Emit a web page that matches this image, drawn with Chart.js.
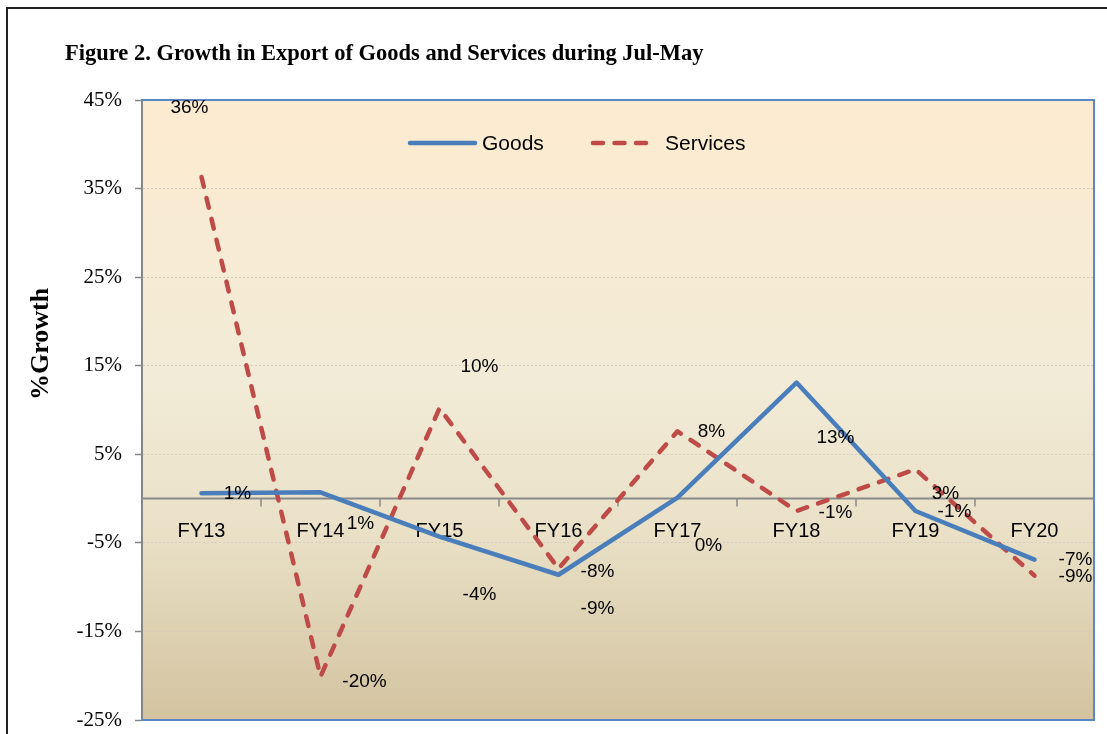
<!DOCTYPE html>
<html>
<head>
<meta charset="utf-8">
<title>Growth in Export of Goods and Services</title>
<script src="https://cdn.jsdelivr.net/npm/chart.js@4.4.4/dist/chart.umd.min.js"></script>
<style>
  html, body { margin: 0; padding: 0; background: #fff; }
  #wrap { position: relative; width: 1107px; height: 734px; }
</style>
</head>
<body>
<div id="wrap"><canvas id="chart" width="1107" height="734"></canvas></div>
<script>
// values (percent growth, Jul-May)
const categories = ['FY13', 'FY14', 'FY15', 'FY16', 'FY17', 'FY18', 'FY19', 'FY20'];
const goodsGrowth = [0.6, 0.7, -4.3, -8.6, 0.1, 13.1, -1.4, -6.9];
const servicesGrowth = [36.3, -20.1, 10.2, -7.9, 7.6, -1.4, 3.3, -8.7];
const yTickValues = [-25, -15, -5, 5, 15, 25, 35, 45];

// where each data label sits relative to its point (px), like the original
const goodsLabelOffsets = [[36, 1], [40, 31], [40, 58], [39, 34], [31, 48], [39, 55], [39, 1], [41, 0]];
const servicesLabelOffsets = [[-12, -69], [44, 5], [40, -41], [39, 3], [34, 1], [39, 2], [30, 24], [41, 1]];

const TITLE = 'Figure 2. Growth in Export of Goods and Services during Jul-May';
const GOODS_COLOR = '#4a7ebb';
const SERVICES_COLOR = '#be4b48';
const SANS = '"Liberation Sans", Arial, sans-serif';
const SERIF = '"Liberation Serif", "Times New Roman", serif';

const pct = v => Math.round(v) + '%';

const decorations = {
  id: 'decorations',
  beforeDraw(chart) {
    const { ctx, chartArea: a } = chart;
    ctx.save();
    ctx.fillStyle = '#fff';
    ctx.fillRect(0, 0, chart.width, chart.height);
    // outer frame (top + left)
    ctx.strokeStyle = '#222';
    ctx.lineWidth = 2;
    ctx.beginPath();
    ctx.moveTo(7, chart.height);
    ctx.lineTo(7, 8);
    ctx.lineTo(chart.width, 8);
    ctx.stroke();
    // plot background
    const g = ctx.createLinearGradient(0, a.top, 0, a.bottom);
    g.addColorStop(0, '#fdebd0');
    g.addColorStop(0.45, '#f2ebd7');
    g.addColorStop(0.7, '#e9e0c6');
    g.addColorStop(1, '#d3c3a0');
    ctx.fillStyle = g;
    ctx.fillRect(a.left, a.top, a.right - a.left, a.bottom - a.top);
    ctx.restore();
  },
  beforeDatasetsDraw(chart) {
    const { ctx, chartArea: a, scales: { x, y } } = chart;
    const zeroY = y.getPixelForValue(0);
    const step = x.getPixelForValue(1) - x.getPixelForValue(0);
    ctx.save();
    // zero line with tick marks between the categories
    ctx.strokeStyle = '#8a8a8a';
    ctx.lineWidth = 2;
    ctx.beginPath();
    ctx.moveTo(a.left, zeroY);
    ctx.lineTo(a.right, zeroY);
    ctx.stroke();
    ctx.lineWidth = 1.5;
    ctx.beginPath();
    for (let i = 1; i < categories.length; i++) {
      const tx = x.getPixelForValue(i) - step / 2;
      ctx.moveTo(tx, zeroY);
      ctx.lineTo(tx, zeroY + 8);
    }
    ctx.stroke();
    // category labels hang under the zero line
    ctx.fillStyle = '#000';
    ctx.font = '20px ' + SANS;
    ctx.textAlign = 'center';
    ctx.textBaseline = 'middle';
    categories.forEach((c, i) => ctx.fillText(c, x.getPixelForValue(i), zeroY + 33));
    ctx.restore();
  },
  afterDatasetsDraw(chart) {
    const { ctx, chartArea: a, scales: { x, y } } = chart;
    ctx.save();
    // plot border: blue top/right/bottom
    ctx.strokeStyle = '#5b87c4';
    ctx.lineWidth = 2;
    ctx.beginPath();
    ctx.moveTo(a.left, a.top);
    ctx.lineTo(a.right, a.top);
    ctx.lineTo(a.right, a.bottom);
    ctx.lineTo(a.left, a.bottom);
    ctx.stroke();
    // data labels
    ctx.fillStyle = '#000';
    ctx.font = '19px ' + SANS;
    ctx.textAlign = 'center';
    ctx.textBaseline = 'middle';
    const drawLabels = (values, offsets) => values.forEach((v, i) => {
      ctx.fillText(pct(v), x.getPixelForValue(i) + offsets[i][0], y.getPixelForValue(v) + offsets[i][1]);
    });
    drawLabels(goodsGrowth, goodsLabelOffsets);
    drawLabels(servicesGrowth, servicesLabelOffsets);
    ctx.restore();
  },
  afterDraw(chart) {
    const { ctx, chartArea: a } = chart;
    ctx.save();
    // title
    ctx.fillStyle = '#000';
    ctx.font = 'bold 22.5px ' + SERIF;
    ctx.textAlign = 'left';
    ctx.textBaseline = 'alphabetic';
    ctx.fillText(TITLE, 65, 60);
    // y axis title
    ctx.translate(41, 344);
    ctx.rotate(-Math.PI / 2);
    ctx.font = 'bold 26px ' + SERIF;
    ctx.textAlign = 'center';
    ctx.textBaseline = 'middle';
    ctx.fillText('%Growth', 0, 0);
    ctx.restore();

    // legend inside the plot
    ctx.save();
    const ly = a.top + 43;
    ctx.lineWidth = 4.5;
    ctx.lineCap = 'round';
    chart.data.datasets.forEach((ds, i) => {
      const sx = a.left + (i === 0 ? 268 : 451);
      const len = i === 0 ? 65 : 58;
      ctx.strokeStyle = ds.borderColor;
      ctx.setLineDash(ds.borderDash || []);
      ctx.beginPath();
      ctx.moveTo(sx, ly);
      ctx.lineTo(sx + len, ly);
      ctx.stroke();
      ctx.setLineDash([]);
      ctx.fillStyle = '#000';
      ctx.font = '21px ' + SANS;
      ctx.textAlign = 'left';
      ctx.textBaseline = 'middle';
      ctx.fillText(ds.label, sx + len + (i === 0 ? 7 : 14), ly + 1);
    });
    ctx.restore();
  }
};

new Chart(document.getElementById('chart'), {
  type: 'line',
  data: {
    labels: categories,
    datasets: [
      {
        label: 'Goods',
        data: goodsGrowth,
        borderColor: GOODS_COLOR,
        borderWidth: 4.5,
        borderJoinStyle: 'round',
        borderCapStyle: 'round',
        pointRadius: 0,
        tension: 0
      },
      {
        label: 'Services',
        data: servicesGrowth,
        borderColor: SERVICES_COLOR,
        borderWidth: 4.5,
        borderDash: [10, 11.5],
        borderJoinStyle: 'round',
        borderCapStyle: 'round',
        pointRadius: 0,
        tension: 0
      }
    ]
  },
  options: {
    responsive: false,
    animation: false,
    layout: { padding: { left: 0, top: 100, right: 13, bottom: 14 } },
    scales: {
      x: { type: 'category', offset: true, display: false },
      y: {
        min: -25,
        max: 45,
        afterBuildTicks(scale) { scale.ticks = yTickValues.map(v => ({ value: v })); },
        afterFit(scale) {
          scale.width = 142;
          scale.paddingTop = 0;
          scale.paddingBottom = 0;
        },
        ticks: {
          color: '#000',
          padding: 13,
          font: { family: SERIF, size: 21 },
          callback: v => v + '%'
        },
        grid: { color: '#d2ccbe', lineWidth: 1, tickLength: 7, tickColor: '#868686', tickWidth: 1.5 },
        border: { display: true, color: '#868686', width: 2, dash: [2, 2] }
      }
    },
    plugins: { legend: { display: false }, tooltip: { enabled: false } }
  },
  plugins: [decorations]
});
</script>
</body>
</html>
